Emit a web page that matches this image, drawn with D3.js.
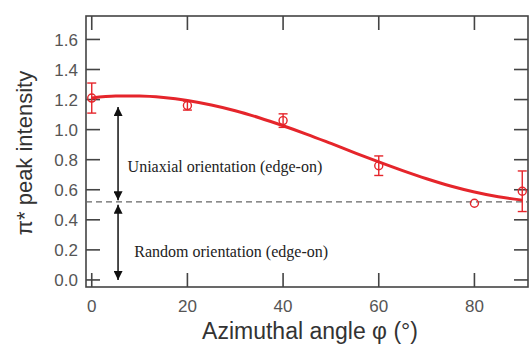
<!DOCTYPE html>
<html>
<head>
<meta charset="utf-8">
<script src="https://cdn.jsdelivr.net/npm/d3@7"></script>
<style>
  body { margin: 0; background: #fff; }
  svg { display: block; }
</style>
</head>
<body>
<div id="chart"></div>
<script>
// measured points (angle, intensity, error)
const angles = [0, 20, 40, 60, 80, 90];
const intensity = [1.21, 1.16, 1.06, 0.76, 0.51, 0.59];
const errors = [0.10, 0.03, 0.045, 0.065, 0.0, 0.135];

// fitted curve
const fitAngles = [0, 5, 10, 15, 20, 25, 30, 35, 40, 45, 50, 55, 60, 65, 70, 75, 80, 85, 90];
const fitValues = [1.211, 1.223, 1.224, 1.214, 1.194, 1.164, 1.126, 1.079, 1.026, 0.969, 0.908, 0.846, 0.785, 0.727, 0.673, 0.625, 0.585, 0.553, 0.531];

const randomLevel = 0.52;
const xTicks = [0, 20, 40, 60, 80];
const yTicks = [0.0, 0.2, 0.4, 0.6, 0.8, 1.0, 1.2, 1.4, 1.6];

const width = 529, height = 344;
const margin = { top: 16, right: 1, bottom: 57, left: 86 };
const red = '#e5252b';
const axisColor = '#444';

const svg = d3.select('#chart')
  .append('svg')
  .attr('width', width)
  .attr('height', height);

const x = d3.scaleLinear()
  .domain([-1.2, 91.2])
  .range([margin.left, width - margin.right]);
const y = d3.scaleLinear()
  .domain([-0.047, 1.756])
  .range([height - margin.bottom, margin.top]);

const x0 = x.range()[0], x1 = x.range()[1];
const y0 = y.range()[0], y1 = y.range()[1];
const tickLen = 14;

// frame
svg.append('rect')
  .attr('x', x0).attr('y', y1)
  .attr('width', x1 - x0).attr('height', y0 - y1)
  .attr('fill', 'none')
  .attr('stroke', axisColor)
  .attr('stroke-width', 1.6);

// ticks: all pointing inward, mirrored on top and right
const tickG = svg.append('g').attr('stroke', axisColor).attr('stroke-width', 1.6);
xTicks.forEach(t => {
  tickG.append('line').attr('x1', x(t)).attr('x2', x(t)).attr('y1', y0).attr('y2', y0 - tickLen);
  tickG.append('line').attr('x1', x(t)).attr('x2', x(t)).attr('y1', y1).attr('y2', y1 + tickLen);
});
yTicks.forEach(t => {
  tickG.append('line').attr('x1', x0).attr('x2', x0 + tickLen).attr('y1', y(t)).attr('y2', y(t));
  tickG.append('line').attr('x1', x1).attr('x2', x1 - tickLen).attr('y1', y(t)).attr('y2', y(t));
});

// tick labels
svg.append('g')
  .selectAll('text')
  .data(yTicks)
  .enter()
  .append('text')
  .attr('x', x0 - 8)
  .attr('y', d => y(d))
  .attr('dy', '0.36em')
  .attr('text-anchor', 'end')
  .style('font-family', '"Liberation Sans", Arial, sans-serif')
  .style('font-size', '17px')
  .style('fill', '#555')
  .text(d => d3.format('.1f')(d));

svg.append('g')
  .selectAll('text')
  .data(xTicks)
  .enter()
  .append('text')
  .attr('x', d => x(d))
  .attr('y', y0 + 25)
  .attr('text-anchor', 'middle')
  .style('font-family', '"Liberation Sans", Arial, sans-serif')
  .style('font-size', '17px')
  .style('fill', '#555')
  .text(d => d);

// axis titles
svg.append('text')
  .attr('x', (x0 + x1) / 2 + 3)
  .attr('y', 339)
  .attr('text-anchor', 'middle')
  .style('font-family', '"Liberation Sans", Arial, sans-serif')
  .style('font-size', '23px')
  .style('fill', '#333')
  .text('Azimuthal angle φ (°)');

svg.append('text')
  .attr('transform', `translate(32, ${153}) rotate(-90)`)
  .attr('text-anchor', 'middle')
  .style('font-family', '"Liberation Sans", Arial, sans-serif')
  .style('font-size', '22px')
  .style('fill', '#333')
  .text('π* peak intensity');

// random orientation level
svg.append('line')
  .attr('x1', x0).attr('x2', x1)
  .attr('y1', y(randomLevel)).attr('y2', y(randomLevel))
  .attr('stroke', '#666')
  .attr('stroke-width', 1.3)
  .attr('stroke-dasharray', '6,4');

// double arrows
const defs = svg.append('defs');
['start', 'end'].forEach(k => {
  defs.append('marker')
    .attr('id', 'arrow-' + k)
    .attr('viewBox', '0 0 10 10')
    .attr('refX', 10).attr('refY', 5)
    .attr('markerWidth', 10).attr('markerHeight', 9)
    .attr('markerUnits', 'userSpaceOnUse')
    .attr('orient', k === 'end' ? 'auto' : 'auto-start-reverse')
    .append('path')
    .attr('d', 'M0,0 L10,5 L0,10 Z')
    .attr('fill', '#111');
});
const arrowX = 5.5;
const arrows = [[1.15, 0.53], [0.50, 0.0]];
arrows.forEach(a => {
  svg.append('line')
    .attr('x1', x(arrowX)).attr('x2', x(arrowX))
    .attr('y1', y(a[0])).attr('y2', y(a[1]))
    .attr('stroke', '#111')
    .attr('stroke-width', 1.5)
    .attr('marker-start', 'url(#arrow-start)')
    .attr('marker-end', 'url(#arrow-end)');
});

// annotations
const notes = [
  { text: 'Uniaxial orientation (edge-on)', ax: 7.5, ay: 0.72 },
  { text: 'Random orientation (edge-on)', ax: 8.9, ay: 0.15 }
];
svg.append('g')
  .selectAll('text')
  .data(notes)
  .enter()
  .append('text')
  .attr('x', d => x(d.ax))
  .attr('y', d => y(d.ay))
  .style('font-family', '"Liberation Serif", "Times New Roman", serif')
  .style('font-size', '16px')
  .style('fill', '#222')
  .text(d => d.text);

// fitted curve
const line = d3.line()
  .x((d, i) => x(fitAngles[i]))
  .y(d => y(d))
  .curve(d3.curveMonotoneX);
svg.append('path')
  .datum(fitValues)
  .attr('fill', 'none')
  .attr('stroke', red)
  .attr('stroke-width', 3)
  .attr('d', line);

// error bars + open markers
const pts = svg.append('g').attr('stroke', red).attr('stroke-width', 1.4).attr('fill', 'none');
angles.forEach((a, i) => {
  const cx = x(a), v = intensity[i], e = errors[i];
  if (e > 0) {
    pts.append('line').attr('x1', cx).attr('x2', cx).attr('y1', y(v + e)).attr('y2', y(v - e));
    pts.append('line').attr('x1', cx - 4.5).attr('x2', cx + 4.5).attr('y1', y(v + e)).attr('y2', y(v + e));
    pts.append('line').attr('x1', cx - 4.5).attr('x2', cx + 4.5).attr('y1', y(v - e)).attr('y2', y(v - e));
  }
  pts.append('circle').attr('cx', cx).attr('cy', y(v)).attr('r', 4);
});
</script>
</body>
</html>
